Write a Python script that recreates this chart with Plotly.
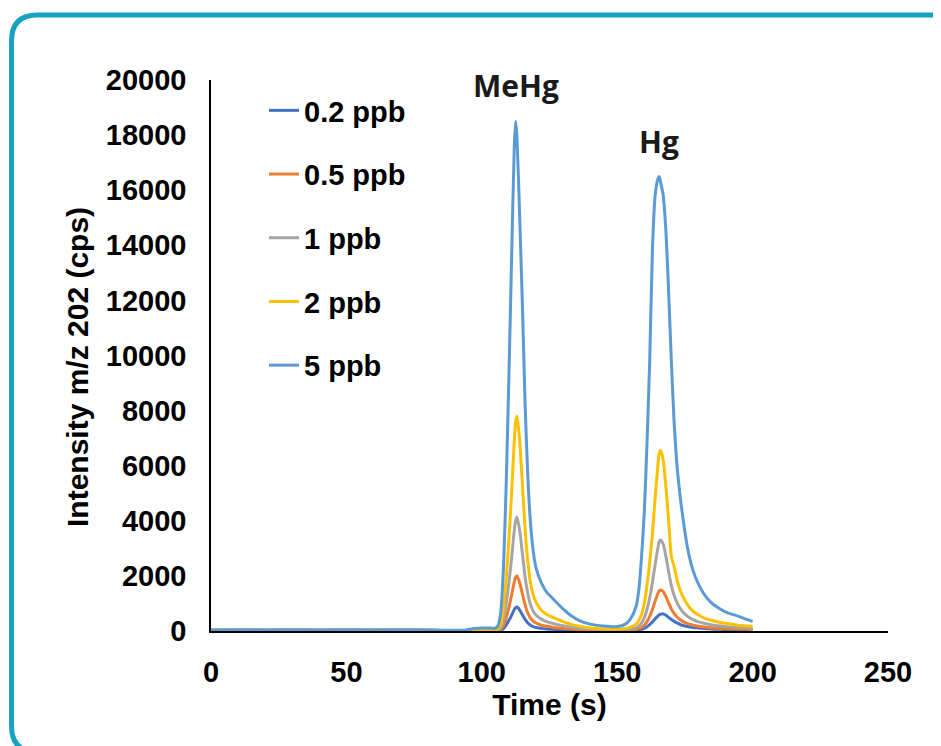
import plotly.graph_objects as go

# ---------------- data ----------------
time_s = [0, 10, 20, 30, 40, 50, 60, 70, 80, 85, 90, 94, 97, 100, 103, 105, 106, 107, 108, 109,
          110, 111, 112, 112.5, 113, 114, 115, 116, 117, 118, 119, 120, 122, 124, 126, 128, 130,
          133, 136, 140, 145, 150, 153, 155, 157, 158, 159, 160, 161, 162, 163, 164, 165, 165.5,
          166, 167, 168, 169, 170, 171, 172, 173, 174, 176, 178, 180, 182, 185, 188, 191, 194,
          197, 200]

ppb_0_2 = [20, 22, 18, 21, 19, 22, 20, 21, 19, 15, 12, 14, 20, 25, 25, 15, 15, 35, 90, 210,
           380, 570, 780, 850, 870, 760, 590, 420, 290, 210, 160, 130, 95, 75, 60, 50, 40,
           30, 25, 20, 15, 15, 15, 20, 30, 40, 60, 95, 150, 230, 330, 440, 540, 590,
           610, 620, 570, 490, 420, 350, 300, 250, 210, 160, 130, 110, 90, 75, 60, 50, 45,
           40, 35]

ppb_0_5 = [25, 28, 24, 27, 25, 28, 26, 27, 25, 18, 14, 16, 25, 30, 30, 20, 30, 70, 200, 470,
           850, 1300, 1780, 1950, 2000, 1750, 1350, 950, 650, 470, 360, 290, 210, 170, 140, 115, 95,
           70, 55, 40, 30, 28, 30, 40, 60, 85, 130, 210, 340, 530, 780, 1080, 1350, 1450,
           1490, 1430, 1250, 1020, 800, 640, 520, 430, 360, 270, 210, 170, 145, 115, 95, 80, 70,
           60, 55]

ppb_1 = [28, 30, 27, 30, 28, 31, 28, 30, 28, 20, 15, 18, 30, 40, 40, 30, 50, 140, 420, 1000,
         1750, 2650, 3650, 4000, 4140, 3650, 2800, 1950, 1350, 950, 720, 580, 430, 340, 280, 230, 190,
         140, 100, 70, 50, 45, 50, 70, 120, 180, 290, 480, 780, 1200, 1750, 2400, 3000, 3250,
         3300, 3150, 2700, 2150, 1650, 1300, 1050, 860, 720, 530, 410, 330, 280, 220, 180, 150, 130,
         115, 100]

ppb_2 = [32, 35, 30, 34, 31, 35, 32, 34, 31, 22, 16, 20, 40, 50, 50, 45, 90, 250, 800, 1900,
         3300, 5000, 6900, 7600, 7800, 6900, 5300, 3700, 2500, 1750, 1300, 1050, 750, 600, 500, 420, 340,
         240, 170, 110, 80, 70, 90, 140, 250, 380, 600, 1000, 1650, 2500, 3500, 4800, 6000, 6450,
         6550, 6200, 5200, 4000, 2700, 2350, 1900, 1550, 1300, 950, 720, 580, 480, 380, 310, 260, 220,
         190, 170]

ppb_5 = [40, 45, 40, 45, 40, 45, 40, 45, 40, 30, 25, 30, 90, 110, 110, 100, 200, 700, 2300, 5300,
         9200, 13500, 17600, 18500, 17900, 15000, 11800, 8200, 5600, 3900, 2900, 2300, 1750, 1400, 1200, 1000, 800,
         550, 380, 250, 180, 160, 250, 450, 900, 1500, 2700, 4300, 6800, 9800, 13800, 15800, 16400, 16500,
         16300, 15800, 14500, 12300, 9800, 7600, 6100, 5100, 4300, 3000, 2200, 1700, 1350, 1000, 800, 650, 560,
         450, 350]

series_names = ["0.2 ppb", "0.5 ppb", "1 ppb", "2 ppb", "5 ppb"]
series_values = [ppb_0_2, ppb_0_5, ppb_1, ppb_2, ppb_5]
series_colors = ["#4472C4", "#ED7D31", "#A5A5A5", "#FFC000", "#5B9BD5"]

x_tick_vals = [0, 50, 100, 150, 200, 250]
y_tick_vals = [0, 2000, 4000, 6000, 8000, 10000, 12000, 14000, 16000, 18000, 20000]

peak_labels = ["MeHg", "Hg"]

# ---------------- layout geometry ----------------
OFF = 8                      # page offset of the figure inside the window
W, H = 941 - OFF, 746 - OFF
ML, MR, MT, MB = 211 - OFF, 53, 80 - OFF, 115
PW, PH = W - ML - MR, H - MT - MB


def px(xp):  # window pixel -> paper
    return (xp - OFF - ML) / PW


def py(yp):  # window pixel -> paper
    return (H - MB - (yp - OFF)) / PH


FONT = "Liberation Sans, Arial, sans-serif"
TICK_SIZE = 29
TITLE_SIZE = 30

fig = go.Figure()
for name, vals, col in zip(series_names, series_values, series_colors):
    fig.add_trace(go.Scatter(
        x=time_s, y=vals, name=name, mode="lines", legendgroup=name,
        line=dict(color=col, width=3, shape="spline", smoothing=0.6),
    ))

# rounded frame
L, T, R, B, r = 11.5, 15, 965, 752, 26
path = (f"M {px(L)},{py(T + r)} Q {px(L)},{py(T)} {px(L + r)},{py(T)} "
        f"L {px(R - r)},{py(T)} Q {px(R)},{py(T)} {px(R)},{py(T + r)} "
        f"L {px(R)},{py(B - r)} Q {px(R)},{py(B)} {px(R - r)},{py(B)} "
        f"L {px(L + r)},{py(B)} Q {px(L)},{py(B)} {px(L)},{py(B - r)} Z")
fig.add_shape(type="path", path=path, xref="paper", yref="paper",
              line=dict(color="#17A2BF", width=5), layer="below")

LABEL_FONT = dict(family="Open Sans, Lato, sans-serif", size=30, color="#1a1a1a", weight="bold")
annotations = [
    dict(text="Intensity m/z 202 (cps)", x=px(78), y=py(367), xref="paper", yref="paper",
         textangle=-90, showarrow=False,
         font=dict(family=FONT, size=TITLE_SIZE, color="#000000", weight="bold"),
         xanchor="center", yanchor="middle"),
    dict(text=peak_labels[0], x=112.5, y=py(86), xref="x", yref="paper", showarrow=False,
         font=LABEL_FONT, xanchor="center", yanchor="middle"),
    dict(text=peak_labels[1], x=165.5, y=py(141), xref="x", yref="paper", showarrow=False,
         font=LABEL_FONT, xanchor="center", yanchor="middle"),
]

fig.update_layout(
    width=W, height=H,
    margin=dict(l=ML, r=MR, t=MT, b=MB, autoexpand=False),
    paper_bgcolor="white", plot_bgcolor="white",
    font=dict(family=FONT, size=TICK_SIZE, color="#000000", weight="bold"),
    showlegend=True,
    legend=dict(x=px(264), y=py(85), xanchor="left", yanchor="top",
                bgcolor="rgba(0,0,0,0)", tracegroupgap=23,
                font=dict(family=FONT, size=TICK_SIZE, color="#000000", weight="bold"),
                traceorder="grouped"),
    annotations=annotations,
    xaxis=dict(range=[0, 250], tickvals=x_tick_vals, showgrid=False, zeroline=False,
               showline=True, linecolor="#000000", linewidth=1.5, ticks="",
               ticklabelstandoff=14,
               title=dict(text="Time (s)", standoff=4,
                          font=dict(family=FONT, size=TITLE_SIZE, color="#000000", weight="bold"))),
    yaxis=dict(range=[0, 20000], tickvals=y_tick_vals, showgrid=False, zeroline=False,
               showline=True, linecolor="#000000", linewidth=1.5, ticks="",
               ticklabelstandoff=17, tickformat="d"),
)

fig.write_html("out.html")
